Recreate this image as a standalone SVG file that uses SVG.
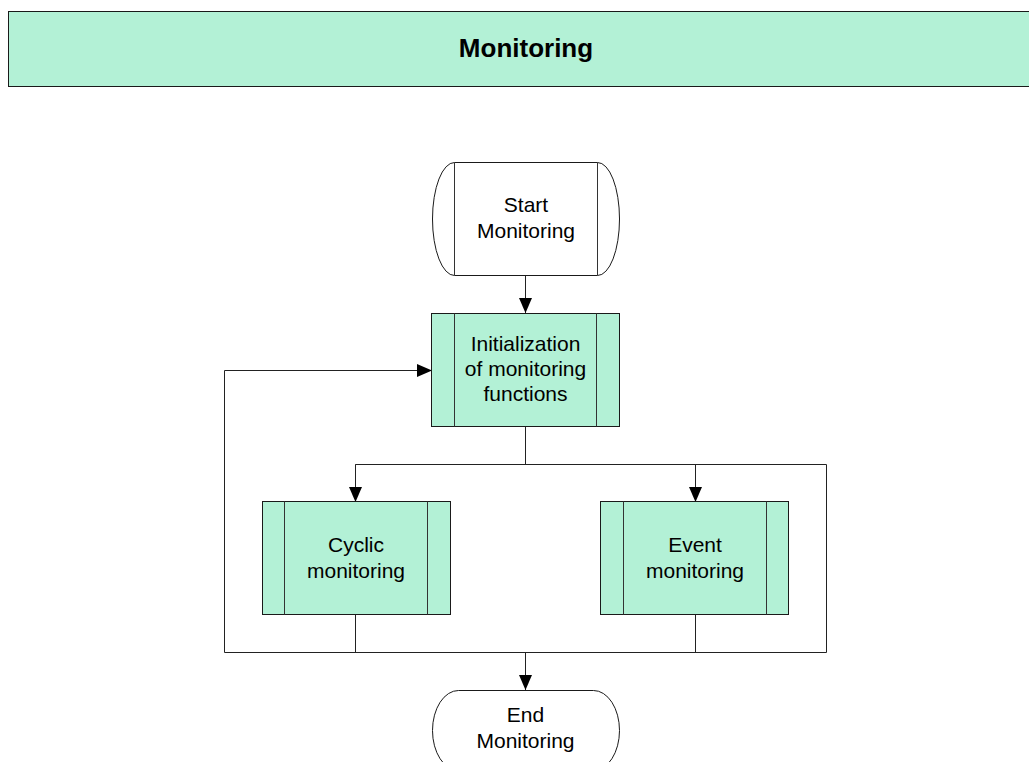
<svg xmlns="http://www.w3.org/2000/svg" width="1029" height="762" viewBox="0 0 1029 762">
  <style>
    .fill { fill: #b3f1d6; stroke: #1a1a1a; stroke-width: 1; }
    .plain { fill: #ffffff; stroke: #1a1a1a; stroke-width: 1; }
    .bar { stroke: #333333; stroke-width: 1; fill: none; }
    .lbl { font-family: "Liberation Sans", Arial, sans-serif; font-size: 21px; fill: #000000; text-anchor: middle; }
    .title { font-family: "Liberation Sans", Arial, sans-serif; font-size: 26px; font-weight: bold; fill: #000000; text-anchor: middle; }
    .wire { stroke: #222222; stroke-width: 1; fill: none; }
  </style>
  <defs>
    <marker id="arrow" viewBox="0 0 15 13" refX="15" refY="6.5" markerWidth="15" markerHeight="13" markerUnits="userSpaceOnUse" orient="auto">
      <path d="M0,0 L15,6.5 L0,13 Z" fill="#000000"/>
    </marker>
  </defs>

  <rect width="1029" height="762" fill="#ffffff"/>

  <!-- title banner -->
  <g id="banner">
    <rect x="8.5" y="11.5" width="1030" height="75" class="fill"/>
    <text x="526" y="57" class="title">Monitoring</text>
  </g>

  <!-- connectors -->
  <g id="connectors">
    <line x1="525.5" y1="275" x2="525.5" y2="313" class="wire" marker-end="url(#arrow)"/>
    <polyline points="224.5,652.5 224.5,370.5 432,370.5" class="wire" marker-end="url(#arrow)"/>
    <line x1="525.5" y1="427" x2="525.5" y2="464.5" class="wire"/>
    <polyline points="355.5,502 355.5,464.5 826.5,464.5 826.5,652.5" class="wire"/>
    <line x1="355.5" y1="464.5" x2="355.5" y2="502" class="wire" marker-end="url(#arrow)"/>
    <line x1="695.5" y1="464.5" x2="695.5" y2="502" class="wire" marker-end="url(#arrow)"/>
    <line x1="355.5" y1="615" x2="355.5" y2="652.5" class="wire"/>
    <line x1="695.5" y1="615" x2="695.5" y2="652.5" class="wire"/>
    <line x1="224.5" y1="652.5" x2="826.5" y2="652.5" class="wire"/>
    <line x1="525.5" y1="652.5" x2="525.5" y2="690" class="wire" marker-end="url(#arrow)"/>
  </g>

  <!-- start terminator -->
  <g id="start">
    <path d="M454.5,162.5 H597.5 A22,56.5 0 0 1 597.5,275.5 H454.5 A22,56.5 0 0 1 454.5,162.5 Z" class="plain"/>
    <line x1="454.5" y1="162.5" x2="454.5" y2="275.5" class="bar"/>
    <line x1="597.5" y1="162.5" x2="597.5" y2="275.5" class="bar"/>
    <text class="lbl"><tspan x="526" y="212">Start</tspan><tspan x="526" y="238">Monitoring</tspan></text>
  </g>

  <!-- initialization process -->
  <g id="init">
    <rect x="431.5" y="313.5" width="188" height="113" class="fill"/>
    <line x1="454.5" y1="313.5" x2="454.5" y2="426.5" class="bar"/>
    <line x1="596.5" y1="313.5" x2="596.5" y2="426.5" class="bar"/>
    <text class="lbl"><tspan x="525.5" y="351">Initialization</tspan><tspan x="525.5" y="376">of monitoring</tspan><tspan x="525.5" y="401">functions</tspan></text>
  </g>

  <!-- cyclic monitoring process -->
  <g id="cyclic">
    <rect x="262.5" y="501.5" width="188" height="113" class="fill"/>
    <line x1="284.5" y1="501.5" x2="284.5" y2="614.5" class="bar"/>
    <line x1="427.5" y1="501.5" x2="427.5" y2="614.5" class="bar"/>
    <text class="lbl"><tspan x="356" y="552">Cyclic</tspan><tspan x="356" y="578">monitoring</tspan></text>
  </g>

  <!-- event monitoring process -->
  <g id="event">
    <rect x="600.5" y="501.5" width="188" height="113" class="fill"/>
    <line x1="623.5" y1="501.5" x2="623.5" y2="614.5" class="bar"/>
    <line x1="766.5" y1="501.5" x2="766.5" y2="614.5" class="bar"/>
    <text class="lbl"><tspan x="695" y="552">Event</tspan><tspan x="695" y="578">monitoring</tspan></text>
  </g>

  <!-- end terminator -->
  <g id="end">
    <path d="M458.5,690.5 H593.5 A26,40 0 0 1 593.5,770.5 H458.5 A26,40 0 0 1 458.5,690.5 Z" class="plain"/>
    <text class="lbl"><tspan x="525.5" y="722">End</tspan><tspan x="525.5" y="748">Monitoring</tspan></text>
  </g>
</svg>
